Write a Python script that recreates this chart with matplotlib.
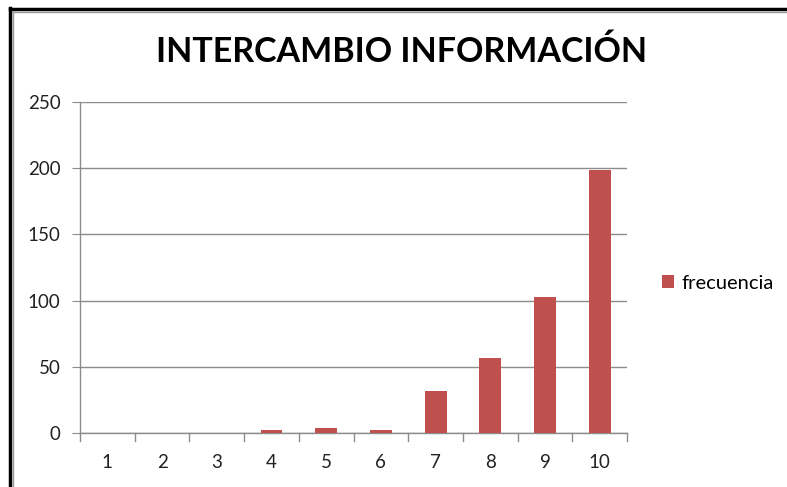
import matplotlib.pyplot as plt
from matplotlib.lines import Line2D

categories = ['1', '2', '3', '4', '5', '6', '7', '8', '9', '10']
frecuencia = [0, 0, 0, 2.5, 4, 2.5, 32, 56.5, 102.5, 198.5]
y_ticks = [0, 50, 100, 150, 200, 250]

bar_color = '#C0504D'
grid_color = '#8C8C8C'

plt.rcParams['font.family'] = ['Lato', 'DejaVu Sans']

fig = plt.figure(figsize=(7.87, 4.87), dpi=100)
ax = fig.add_axes([0.1017, 0.1109, 0.695, 0.6797])

x = list(range(len(categories)))
ax.bar(x, frecuencia, width=0.4, color=bar_color, label='frecuencia', zorder=3)

ax.set_xlim(-0.5, len(categories) - 0.5)
ax.set_ylim(0, 250)
ax.set_yticks(y_ticks)
ax.yaxis.grid(True, color=grid_color, linewidth=1)
ax.set_axisbelow(True)

# category labels centred, ticks on category boundaries
ax.set_xticks(x)
ax.set_xticklabels(categories, fontsize=13.5, color='#222222')
ax.tick_params(axis='x', length=0, pad=15)
for b in [i - 0.5 for i in range(len(categories) + 1)]:
    ax.plot([b, b], [0, -0.025], transform=ax.get_xaxis_transform(),
            color=grid_color, linewidth=1, clip_on=False)

ax.tick_params(axis='y', labelsize=13.5, labelcolor='#222222', length=6,
               color=grid_color, pad=8)

for s in ['top', 'right']:
    ax.spines[s].set_visible(False)
for s in ['left', 'bottom']:
    ax.spines[s].set_color(grid_color)
    ax.spines[s].set_linewidth(1)

fig.text(0.51, 0.893, 'INTERCAMBIO INFORMACIÓN', ha='center', va='center',
         fontsize=24.5, fontweight='bold', color='black')

ax.legend(loc='center left', bbox_to_anchor=(1.03, 0.453), frameon=False,
          fontsize=14.5, handlelength=0.6, handleheight=0.6, handletextpad=0.4)

# outer chart border (left and top)
W, H = 787.0, 487.0
fig.add_artist(Line2D([10 / W, 10 / W], [0, 1 - 7.5 / H], color='black', linewidth=2.5))
fig.add_artist(Line2D([10 / W, 1], [1 - 8.5 / H, 1 - 8.5 / H], color='black', linewidth=2.5))
fig.add_artist(Line2D([13 / W, 13 / W], [0, 1 - 11 / H], color='#999999', linewidth=1))
fig.add_artist(Line2D([13 / W, 1], [1 - 11.5 / H, 1 - 11.5 / H], color='#999999', linewidth=1))

fig.savefig('out.png', dpi=100)
